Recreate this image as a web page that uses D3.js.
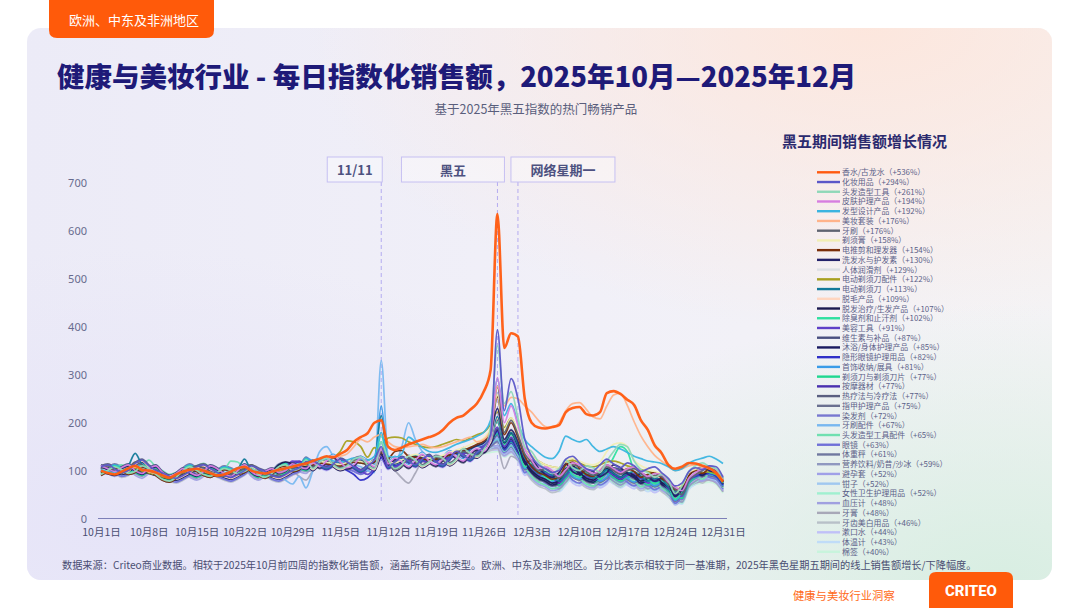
<!DOCTYPE html>
<html><head><meta charset="utf-8">
<script src="https://cdn.jsdelivr.net/npm/d3@7"></script>
<style>html,body{margin:0;padding:0;background:#fff;}svg{display:block;font-family:"Noto Sans CJK SC","Noto Sans",sans-serif;}</style>
</head><body><svg id="c" width="1080" height="608"></svg>
<script>
// ---------- DATA ----------
const regionLabel = "欧洲、中东及非洲地区";
const titleText = "健康与美妆行业 - 每日指数化销售额，2025年10月—2025年12月";
const subtitleText = "基于2025年黑五指数的热门畅销产品";
const legendTitle = "黑五期间销售额增长情况";
const footnote = "数据来源：Criteo商业数据。相较于2025年10月前四周的指数化销售额，涵盖所有网站类型。欧洲、中东及非洲地区。百分比表示相较于同一基准期，2025年黑色星期五期间的线上销售额增长/下降幅度。";
const bottomLabel = "健康与美妆行业洞察";
const brand = "CRITEO";

const startDate = "2025-10-01";
const endDate = "2025-12-31";
const yTicks = [0,100,200,300,400,500,600,700];
const tickDates = ["2025-10-01","2025-10-08","2025-10-15","2025-10-22","2025-10-29","2025-11-05","2025-11-12","2025-11-19","2025-11-26","2025-12-03","2025-12-10","2025-12-17","2025-12-24","2025-12-31"];
const tickLabels = ["10月1日","10月8日","10月15日","10月22日","10月29日","11月5日","11月12日","11月19日","11月26日","12月3日","12月10日","12月17日","12月24日","12月31日"];
const eventLabels = ["11/11","黑五","网络星期一"];
const eventDates = ["2025-11-11","2025-11-28","2025-12-01"];

const categories = ["香水/古龙水","化妆用品","头发造型工具","皮肤护理产品","发型设计产品","美妆套装","牙刷","剃须膏","电推剪和理发器","洗发水与护发素","人体润滑剂","电动剃须刀配件","电动剃须刀","脱毛产品","脱发治疗/生发产品","除臭剂和止汗剂","美容工具","维生素与补品","沐浴/身体护理产品","隐形眼镜护理用品","首饰收纳/展具","剃须刀与剃须刀片","按摩器材","热疗法与冷疗法","指甲护理产品","染发剂","牙刷配件","头发造型工具配件","眼镜","体重秤","营养饮料/奶昔/沙冰","避孕套","钳子","女性卫生护理用品","血压计","牙膏","牙齿美白用品","漱口水","体温计","棉签"];
const growth = [536,294,261,194,192,176,176,158,154,130,129,122,113,109,107,102,91,87,85,82,81,77,77,77,75,72,67,65,63,61,59,52,52,52,48,48,46,44,43,40];
const palette = ["#ff5a0f","#5b57c8","#8fd8b8","#d67ee0","#3ab4e0","#ffb38a","#5f6470","#f1eeb4","#7a2e0a","#24226a","#dcdfe4","#a8a020","#137a9a","#ffd6c0","#1b1a50","#2ee0a0","#6040c8","#4a5080","#1a1a60","#3030c8","#3a9ce8","#20d890","#4a30b0","#5a5f80","#6a7090","#7878d0","#78b8f0","#70e0b0","#7070d8","#7078a0","#9098c0","#a0a0e8","#a0c8f0","#a0f0d0","#a0a0e0","#a8a8b8","#b8c0c8","#c0c0f8","#c0dcf8","#c8f4dc"];

// daily values, Oct 1 .. Dec 31
const d01 = [100,95,92,98,105,110,102,100,96,90,85,92,98,102,104,100,95,90,92,98,105,108,100,96,94,98,102,105,108,112,115,
 120,125,130,128,135,143,160,170,178,200,205,150,143,148,155,160,165,170,175,185,200,210,215,227,240,265,310,636,356,387,
 380,250,200,190,188,191,195,222,231,233,218,215,222,262,266,260,248,237,205,185,153,137,112,104,108,116,115,110,105,95,77];
const d02 = [108,112,104,96,100,115,122,110,100,95,88,84,90,98,108,112,104,96,90,86,92,100,110,104,98,90,86,92,100,106,118,
 120,112,106,114,124,118,108,100,110,122,150,108,118,128,120,112,124,132,118,112,126,140,132,124,138,150,175,394,225,292,
 250,165,130,112,104,96,100,124,130,116,104,100,112,124,114,106,116,110,98,104,108,96,84,68,74,98,106,102,110,108,86];
const d03 = [92,100,108,102,94,98,110,104,92,82,78,86,100,108,100,92,88,96,104,100,94,98,106,92,86,94,108,112,100,104,122,
 104,118,126,112,104,110,124,128,112,104,160,124,104,112,130,122,110,118,130,126,114,124,146,136,130,144,190,361,240,265,
 210,150,140,118,102,94,104,122,106,100,110,106,96,120,140,155,150,120,102,96,86,92,80,52,68,98,110,116,108,104,84];
const d04 = [110,104,98,106,112,100,94,104,110,96,88,94,104,96,90,98,110,104,94,88,100,112,98,90,98,104,96,100,114,108,104,
 116,108,120,130,118,106,112,126,118,108,145,114,126,118,108,122,134,120,112,124,138,128,120,136,146,140,170,294,200,235,
 195,145,122,104,108,100,88,102,116,112,102,94,100,112,104,96,104,108,98,88,94,92,76,66,58,84,96,104,110,102,88];
const d05 = [102,98,96,100,106,110,104,100,95,90,86,92,98,102,104,100,96,92,94,100,106,110,102,98,94,98,102,106,110,114,116,
 118,122,124,120,118,122,126,124,122,130,180,130,128,135,170,160,148,140,138,142,148,155,160,165,172,180,205,292,215,240,
 200,165,150,138,128,125,140,172,165,160,165,150,140,145,150,145,138,130,125,120,118,115,108,100,104,115,122,126,130,124,115];
const d06 = [100,96,94,98,104,108,102,98,94,90,86,92,98,102,104,100,96,92,94,98,104,108,100,96,94,98,102,106,110,112,115,
 118,122,125,128,130,135,150,165,160,170,175,160,150,148,150,152,155,150,148,150,155,160,165,170,160,165,185,276,235,253,
 250,235,222,205,192,190,200,225,240,242,228,212,208,235,258,262,236,202,172,150,132,120,110,100,104,110,112,108,104,96,82];
const d07 = [104,110,100,94,104,118,112,102,96,90,84,88,96,104,110,106,98,94,88,92,98,104,112,102,94,88,92,100,104,110,114,
 108,120,124,114,106,112,122,124,110,106,140,120,102,110,126,120,112,120,128,122,116,126,140,134,132,146,170,276,180,205,
 175,135,118,100,104,96,84,98,112,108,98,90,96,108,100,92,100,104,94,84,90,88,72,62,50,80,92,100,106,98,84];
const d08 = [100,97,95,99,104,108,102,98,94,90,86,91,97,101,103,99,95,91,93,98,104,108,101,97,94,97,101,105,108,111,113,
 115,119,117,115,113,117,121,119,117,122,142,118,116,122,130,134,130,126,128,132,137,143,148,154,160,168,190,258,185,210,
 180,145,130,120,112,108,106,120,126,120,114,112,118,140,155,158,150,122,110,104,98,94,80,66,70,96,103,106,108,103,86];
const d09 = [90,98,106,100,92,96,108,102,90,80,76,84,98,106,98,90,86,94,102,98,92,96,104,90,84,92,106,110,98,102,118,
 112,116,114,112,110,114,118,116,114,118,138,125,140,142,130,128,125,122,124,128,133,138,142,148,155,162,182,254,175,200,
 170,130,108,96,90,82,86,112,118,104,92,88,100,112,102,94,104,98,86,92,96,84,74,60,66,90,100,94,104,102,78];
const d10 = [108,102,96,104,110,98,92,102,108,94,86,92,102,94,88,96,108,102,92,86,98,110,96,88,96,102,94,98,112,106,102,
 113,117,115,113,111,115,119,117,115,119,135,117,115,120,126,130,126,122,124,128,132,137,141,146,152,158,176,230,165,185,
 160,116,122,106,92,86,96,114,98,92,102,98,88,96,112,106,94,86,94,88,78,84,74,46,62,90,102,108,100,96,78];
const d11 = [104,100,97,101,106,110,104,100,96,92,88,93,99,103,105,101,97,93,95,100,106,110,103,99,96,99,103,107,110,113,115,
 118,110,122,132,120,108,114,128,120,110,138,116,128,120,110,124,136,122,114,126,140,130,122,138,148,142,166,229,168,188,
 162,135,121,113,107,103,101,113,117,111,105,103,107,113,115,111,105,101,97,94,91,88,77,63,68,88,96,99,101,96,80];
const d12 = [98,95,92,96,101,105,99,95,91,87,84,89,95,99,101,97,93,89,91,96,101,105,99,95,92,95,99,103,107,110,112,
 115,120,125,128,140,162,160,150,128,148,140,168,170,168,160,155,150,148,150,155,160,165,162,168,175,180,196,222,190,210,
 175,145,130,120,112,108,106,118,122,116,110,108,112,118,120,116,110,106,102,98,95,92,80,66,70,86,94,96,98,92,76];
const d13 = [100,96,94,98,110,136,112,100,94,90,86,91,97,101,103,99,95,90,92,97,103,124,100,96,92,95,99,103,107,110,112,
 118,110,104,112,122,116,106,98,108,120,215,106,116,126,118,110,122,130,116,110,124,138,130,122,136,148,165,213,160,180,
 155,126,110,94,98,90,78,92,106,102,92,84,90,102,94,86,94,98,88,78,84,82,66,58,50,82,94,102,106,98,82];
const d14 = [106,110,102,94,98,113,120,108,98,93,86,82,88,96,106,110,102,94,88,84,90,98,108,102,96,88,84,90,98,104,116,
 102,116,124,110,102,108,122,126,110,102,136,122,102,110,128,120,108,116,128,124,112,122,144,134,128,142,160,209,162,182,
 158,130,118,110,104,100,98,110,114,108,102,100,104,110,112,108,102,98,94,91,88,85,74,60,65,92,100,103,105,100,82];
const d15 = [96,93,90,95,100,104,98,94,90,86,83,88,94,98,100,96,92,88,90,95,100,104,98,94,92,98,112,118,114,108,110,
 114,106,118,128,116,104,110,124,116,106,134,112,124,116,106,120,132,118,110,122,136,126,118,134,144,138,158,207,158,178,
 152,120,100,88,82,74,78,104,110,96,84,80,92,104,94,86,96,90,78,84,88,76,66,52,58,90,100,94,104,100,76];
const d16 = [94,102,110,104,96,100,112,106,94,84,80,88,102,110,102,94,90,98,106,102,96,100,108,94,88,96,110,114,102,106,124,
 114,118,116,114,112,116,120,118,116,120,175,118,116,121,127,131,127,123,125,129,133,138,142,147,153,158,172,202,155,175,
 150,108,116,100,86,80,90,108,92,86,96,92,82,100,128,150,140,100,88,82,72,78,68,40,56,84,96,104,96,92,74];
const d17 = [98,95,92,96,101,105,99,95,91,87,84,89,95,99,101,97,93,89,91,96,101,105,99,95,92,95,99,108,120,118,110,
 112,116,114,112,110,114,110,100,92,105,130,110,108,114,120,124,120,116,118,122,126,131,135,140,146,152,165,191,150,170,
 145,122,106,90,94,86,74,88,102,98,88,80,86,98,90,82,90,94,84,74,80,78,62,54,46,78,90,98,104,96,80];
const d18 = [112,106,100,108,114,102,96,106,112,98,90,96,106,98,92,100,112,106,96,90,102,114,100,92,100,106,98,102,116,110,106,
 122,114,108,116,126,120,110,102,112,124,132,110,120,130,122,114,126,134,120,114,128,142,134,126,140,150,160,187,150,168,
 145,122,112,104,98,94,92,104,108,102,96,94,98,104,106,102,96,92,88,85,82,79,68,54,59,86,94,97,99,94,76];
const d19 = [104,108,100,92,96,111,118,106,96,91,84,80,86,94,104,108,100,92,86,82,88,96,106,100,94,86,82,88,96,102,114,
 100,114,122,108,100,106,120,124,108,100,130,120,100,108,126,118,106,114,126,122,110,120,142,132,126,140,156,185,148,166,
 143,116,96,84,78,70,74,100,106,92,80,76,88,100,90,82,92,86,74,80,84,72,62,48,54,86,96,90,100,98,72];
const d20 = [99,96,93,97,102,106,100,96,92,88,85,90,96,100,102,98,94,90,92,97,102,106,100,96,93,96,100,104,112,118,112,
 110,114,112,110,108,100,92,80,85,100,128,112,110,115,121,125,121,117,119,123,127,132,136,141,146,151,162,182,145,162,
 140,118,108,100,94,90,88,100,104,98,92,90,94,100,102,98,92,88,84,81,78,75,64,50,55,80,88,92,94,88,70];
const d21 = [96,104,112,106,98,102,114,108,96,86,82,90,104,112,104,96,92,100,108,104,98,102,110,96,90,98,112,116,104,108,126,
 120,112,124,134,122,110,116,130,122,112,235,118,130,122,112,126,138,124,116,128,142,132,124,140,150,144,160,181,150,165,
 145,104,112,96,82,76,86,104,88,82,92,88,78,86,102,96,84,76,84,78,68,74,64,38,52,80,92,100,92,88,68];
const d22 = [106,100,94,102,108,96,90,100,106,92,84,90,100,92,86,94,106,100,90,84,96,108,94,86,94,100,92,96,110,104,100,
 113,117,115,113,111,115,119,117,115,119,160,117,115,120,126,130,126,122,124,128,131,135,138,142,147,151,160,177,145,160,
 140,118,102,86,90,82,70,84,98,94,84,76,82,94,86,78,86,90,80,70,76,74,58,50,42,74,86,94,100,92,76];
const d23 = [98,95,92,96,101,105,99,95,91,87,84,89,95,99,101,97,93,89,91,96,101,105,99,95,92,95,99,104,116,120,112,
 116,108,102,110,120,114,104,96,106,118,128,104,114,124,116,108,120,128,114,108,122,136,128,120,134,144,156,177,143,158,
 138,118,108,100,94,90,88,100,104,98,92,90,94,100,102,98,92,88,84,81,78,75,64,50,55,82,90,93,95,90,72];
const d24 = [110,114,106,98,102,117,124,112,102,97,90,86,92,100,110,114,106,98,92,88,94,102,112,106,100,92,88,94,102,108,120,
 112,104,116,126,114,102,108,122,114,104,130,110,122,114,104,118,130,116,108,120,134,124,116,132,142,136,156,177,146,160,
 140,114,94,82,76,68,72,98,104,90,78,74,86,98,88,80,90,84,72,78,82,70,60,46,52,84,94,88,98,96,70];
const d25 = [90,98,106,100,92,96,108,102,90,80,76,84,98,106,98,90,86,94,102,98,92,96,104,90,84,92,106,110,98,102,120,
 106,120,128,114,106,112,126,130,114,106,131,126,106,114,132,124,112,120,132,128,116,126,148,138,132,146,158,175,147,160,
 141,102,110,94,80,74,84,102,86,80,90,86,76,84,100,94,82,74,82,76,66,72,62,36,50,78,90,98,90,86,66];
const d26 = [108,102,96,104,110,98,92,102,108,94,86,92,102,94,88,96,108,102,92,86,98,110,96,88,96,102,94,98,112,106,102,
 118,110,104,112,122,116,106,98,108,120,129,106,116,126,118,110,122,130,116,110,124,138,130,122,136,146,156,172,145,158,
 138,116,100,84,88,80,68,82,96,92,82,74,80,92,84,76,84,88,78,68,74,72,56,48,40,72,84,92,98,90,74];
const d27 = [102,98,96,100,106,112,104,100,94,90,86,91,97,101,103,99,95,91,93,98,104,108,101,97,94,97,90,80,72,88,64,
 100,140,150,130,118,115,112,108,100,96,330,130,115,150,200,165,140,128,126,130,134,138,141,145,150,154,158,167,142,155,
 135,116,106,98,92,88,86,98,102,96,90,88,92,98,100,96,90,86,82,79,76,73,62,48,53,78,86,90,92,86,68];
const d28 = [100,104,108,112,106,100,110,122,108,100,92,96,100,104,110,115,105,95,100,120,118,104,100,96,90,92,98,104,108,106,110,
 112,116,114,112,110,114,118,116,114,118,145,116,114,119,125,129,125,121,123,127,131,135,138,142,146,150,156,165,140,152,
 132,108,88,76,70,62,66,92,98,84,72,68,80,92,82,74,84,78,66,72,76,64,54,40,46,78,88,82,92,90,64];
const d29 = [100,104,96,88,92,107,114,102,92,87,80,76,82,90,100,104,96,88,82,78,84,92,102,96,90,82,78,84,92,98,110,
 112,116,114,112,110,104,98,92,100,110,126,114,112,117,123,127,123,119,121,125,129,133,136,140,144,148,154,163,138,150,
 130,96,104,88,74,68,78,96,80,74,84,80,70,78,94,88,76,68,76,70,60,66,56,32,46,74,86,94,86,82,62];
const d30 = [98,106,114,108,100,104,116,110,98,88,84,92,106,114,106,98,94,102,110,106,100,104,112,98,92,100,114,118,106,110,128,
 114,106,118,128,116,104,110,124,116,106,128,112,124,116,106,120,132,118,110,122,136,126,118,134,144,138,150,161,140,150,
 131,113,103,95,89,85,83,95,99,93,87,85,89,95,97,93,87,83,79,76,73,70,59,45,50,77,85,88,90,85,67];
const d31 = [104,98,92,100,106,94,88,98,104,90,82,88,98,90,84,92,104,98,88,82,94,106,92,84,92,98,90,94,108,102,98,
 102,116,124,110,102,108,122,126,110,102,126,122,102,110,128,120,108,116,128,124,112,122,144,134,128,140,150,159,139,149,
 130,110,94,78,82,74,62,76,90,86,76,68,74,86,78,70,78,82,72,62,68,66,50,42,34,66,78,86,92,84,68];
const d32 = [103,99,97,101,106,110,104,100,96,92,88,93,99,103,105,101,97,93,95,100,106,110,103,99,96,99,103,107,110,113,115,
 120,112,106,114,124,118,108,100,110,122,128,108,118,128,120,112,124,132,118,112,126,140,132,124,138,146,150,152,136,145,
 128,104,84,72,66,58,62,88,94,80,68,64,76,88,78,70,80,74,62,68,72,60,50,36,42,74,84,78,88,86,60];
const d33 = [102,106,98,90,94,109,116,104,94,89,82,78,84,92,102,106,98,90,84,80,86,94,104,98,92,84,80,86,94,100,112,
 113,117,115,113,111,115,119,117,115,119,124,117,115,120,126,130,126,122,124,128,132,135,138,141,144,147,149,152,135,144,
 127,94,102,86,72,66,76,94,78,72,82,78,68,76,92,86,74,66,74,68,58,64,54,30,44,72,84,92,84,80,60];
const d34 = [92,100,108,102,94,98,110,104,92,82,78,86,100,108,100,92,88,96,104,100,94,98,106,92,86,94,108,112,100,104,122,
 118,110,122,132,120,108,114,128,120,110,126,116,128,120,110,124,136,122,114,126,140,130,122,138,146,140,148,152,136,145,
 128,108,92,76,80,72,60,74,88,84,74,66,72,84,76,68,76,80,70,60,66,64,48,40,32,64,76,84,90,82,66];
const d35 = [100,94,88,96,102,90,84,94,100,86,78,84,94,86,80,88,100,94,84,78,90,102,88,80,88,94,86,90,104,98,94,
 112,116,114,112,110,106,100,95,105,112,122,114,112,117,123,127,123,119,121,125,129,132,135,138,141,144,146,148,132,140,
 124,106,96,88,80,76,74,88,92,86,80,78,82,88,90,86,80,76,72,69,66,63,52,38,43,68,76,80,82,76,58];
const d36 = [102,98,96,100,105,109,103,99,95,91,87,92,98,102,104,100,96,92,94,99,105,109,102,98,95,98,102,106,100,88,80,
 100,112,114,112,110,114,118,116,114,118,124,110,100,85,74,95,118,120,122,126,130,133,136,139,142,145,147,148,104,130,
 122,104,94,86,78,72,70,86,90,84,78,76,80,86,88,84,78,74,70,67,64,61,50,30,40,66,74,78,80,74,56];
const d37 = [98,102,94,86,90,105,112,100,90,85,78,74,80,88,98,102,94,86,80,76,82,90,100,94,88,80,76,82,90,96,108,
 100,114,122,108,100,106,120,124,108,100,124,120,100,108,126,118,106,114,126,122,110,120,140,132,126,136,142,146,131,139,
 122,100,80,68,62,54,58,84,90,76,64,60,72,84,74,66,76,70,58,64,68,56,46,32,38,70,80,74,84,82,56];
const d38 = [96,104,112,106,98,102,114,108,96,86,82,90,104,112,104,96,92,100,108,104,98,102,110,96,90,98,112,116,104,108,126,
 114,106,100,108,118,112,102,94,104,116,122,102,112,122,114,106,118,126,112,106,120,134,126,118,132,140,142,144,130,138,
 121,90,98,82,68,62,72,90,74,68,78,74,64,72,88,82,70,62,70,64,54,60,50,28,40,68,80,88,80,76,56];
const d39 = [112,106,100,108,114,102,96,106,112,98,90,96,106,98,92,100,112,106,96,90,102,114,100,92,100,106,98,102,116,110,106,
 115,119,117,115,113,117,121,119,117,121,125,119,117,122,128,132,128,124,126,130,134,136,138,140,141,142,143,143,130,137,
 120,102,86,70,74,66,56,70,84,80,70,62,68,80,72,64,72,76,66,56,62,60,44,36,30,60,72,80,86,78,62];
const d40 = [101,98,95,99,104,108,102,98,94,90,86,91,97,101,103,99,95,91,93,98,104,108,101,97,94,97,101,105,108,111,113,
 116,108,120,130,118,106,112,126,118,108,123,114,126,118,108,122,134,120,112,124,138,128,120,134,140,136,138,140,128,135,
 119,101,91,83,77,73,71,83,87,81,75,73,77,83,85,81,75,71,67,64,61,58,47,33,38,63,71,74,76,71,53];
const seriesValues = [d01,d02,d03,d04,d05,d06,d07,d08,d09,d10,d11,d12,d13,d14,d15,d16,d17,d18,d19,d20,d21,d22,d23,d24,d25,d26,d27,d28,d29,d30,d31,d32,d33,d34,d35,d36,d37,d38,d39,d40];

// ---------- DRAW ----------
const svg = d3.select("#c");
const parse = d3.timeParse("%Y-%m-%d");
const days = d3.timeDay.range(parse(startDate), d3.timeDay.offset(parse(endDate),1));
const defs = svg.append("defs");

const lg = defs.append("linearGradient").attr("id","pbase").attr("x1","0").attr("x2","1").attr("y1","0").attr("y2","0");
lg.append("stop").attr("offset","0%").attr("stop-color","#ecebf7");
lg.append("stop").attr("offset","55%").attr("stop-color","#f1f0f8");
lg.append("stop").attr("offset","100%").attr("stop-color","#f4f3f5");
const rp = defs.append("radialGradient").attr("id","pink").attr("cx","0.82").attr("cy","0").attr("r","0.55");
rp.append("stop").attr("offset","0%").attr("stop-color","#fde6dc").attr("stop-opacity",0.95);
rp.append("stop").attr("offset","100%").attr("stop-color","#fde6dc").attr("stop-opacity",0);
const rg = defs.append("radialGradient").attr("id","green").attr("cx","0.95").attr("cy","1").attr("r","0.5");
rg.append("stop").attr("offset","0%").attr("stop-color","#d8eee2").attr("stop-opacity",1);
rg.append("stop").attr("offset","100%").attr("stop-color","#d8eee2").attr("stop-opacity",0);
const rl = defs.append("radialGradient").attr("id","lav").attr("cx","0.1").attr("cy","0.9").attr("r","0.5");
rl.append("stop").attr("offset","0%").attr("stop-color","#e6e4f8").attr("stop-opacity",1);
rl.append("stop").attr("offset","100%").attr("stop-color","#e6e4f8").attr("stop-opacity",0);

const P = {x:27, y:28, w:1025, h:552};
["pbase","lav","pink","green"].forEach(id=>{
  svg.append("rect").attr("x",P.x).attr("y",P.y).attr("width",P.w).attr("height",P.h).attr("rx",14).attr("fill",`url(#${id})`);
});

// top-left tab
svg.append("path").attr("d","M49,0 H214 V30 Q214,38 206,38 H57 Q49,38 49,30 Z").attr("fill","#ff5a0a");
svg.append("text").attr("x",69).attr("y",25).attr("fill","#fff").attr("font-size",13).text(regionLabel);

// title
svg.append("text").attr("x",57).attr("y",87).attr("fill","#1e1a78").attr("font-size",27.5).attr("font-weight",900).text(titleText);
svg.append("text").attr("x",536).attr("y",114).attr("text-anchor","middle").attr("fill","#5a5e7c").attr("font-size",12.5).text(subtitleText);

// scales
const x = d3.scaleTime().domain([parse(startDate), parse(endDate)]).range([101,723]);
const y = d3.scaleLinear().domain([0,700]).range([518.5,183.3]);

// y axis
const ya = svg.append("g").attr("transform","translate(90,0)")
  .call(d3.axisLeft(y).tickValues(yTicks).tickSize(0).tickPadding(3));
ya.select(".domain").remove();
ya.selectAll("text").attr("fill","#676b8e").attr("font-size",11).attr("font-family","Noto Sans, sans-serif");

// x axis
const xa = svg.append("g").attr("transform","translate(0,518.5)")
  .call(d3.axisBottom(x).tickValues(tickDates.map(parse)).tickFormat((d,i)=>tickLabels[i]).tickSize(0).tickPadding(10));
xa.select(".domain").remove();
xa.selectAll("text").attr("fill","#4a4e72").attr("font-size",10.5).attr("font-family","Noto Sans CJK SC, sans-serif");
svg.append("line").attr("x1",98).attr("x2",727).attr("y1",518.5).attr("y2",518.5).attr("stroke","#7d80b8").attr("stroke-width",1);

// event lines + boxes
const boxGeom = [[-54,1],[-96,7],[-7,97]];
const lineEnd = [503,503,517];
eventDates.forEach((ds,i)=>{
  const ex = x(parse(ds));
  svg.append("line").attr("x1",ex).attr("x2",ex).attr("y1",182).attr("y2",lineEnd[i])
    .attr("stroke","#b4acf0").attr("stroke-width",1).attr("stroke-dasharray","4,3");
  const bx = ex + boxGeom[i][0], bw = boxGeom[i][1]-boxGeom[i][0];
  svg.append("rect").attr("x",bx).attr("y",157).attr("width",bw).attr("height",25)
    .attr("fill","rgba(255,255,255,0.35)").attr("stroke","#c6c0f2").attr("stroke-width",1);
  svg.append("text").attr("x",bx+bw/2).attr("y",174.5).attr("text-anchor","middle")
    .attr("fill","#4d5180").attr("font-size",13).attr("font-weight",700).text(eventLabels[i]);
});

// lines
const line = d3.line().x((d,i)=>x(days[i])).y(d=>y(d)).curve(d3.curveMonotoneX);
const order = d3.range(seriesValues.length).reverse();
svg.append("g").selectAll("path").data(order).join("path")
  .attr("d",i=>line(seriesValues[i]))
  .attr("fill","none").attr("stroke",i=>palette[i])
  .attr("stroke-width",i=>i===0?2.6:1.7).attr("stroke-linejoin","round").attr("stroke-opacity",0.95);

// legend
svg.append("text").attr("x",782).attr("y",147).attr("fill","#2b2a6e").attr("font-size",15).attr("font-weight",700).text(legendTitle);
const lgG = svg.append("g").selectAll("g").data(categories).join("g")
  .attr("transform",(d,i)=>`translate(0,${172.3+i*9.73})`);
lgG.append("line").attr("x1",817).attr("x2",840).attr("y1",0).attr("y2",0)
  .attr("stroke",(d,i)=>palette[i]).attr("stroke-width",2.4);
lgG.append("text").attr("x",842).attr("y",3).attr("font-size",7.9).attr("fill","#5c5f88")
  .text((d,i)=>`${d}（+${growth[i]}%）`);

// footnote
svg.append("text").attr("x",62).attr("y",569).attr("font-size",10.2).attr("fill","#4a4e72").text(footnote);

// bottom brand
svg.append("text").attr("x",793).attr("y",600).attr("font-size",11.3).attr("fill","#ff6a20").text(bottomLabel);
svg.append("path").attr("d","M929,608 V579 Q929,572 936,572 H1006 Q1013,572 1013,579 V608 Z").attr("fill","#ff5a0a");
svg.append("text").attr("x",971).attr("y",596).attr("text-anchor","middle").attr("fill","#fff")
  .attr("font-size",15).attr("font-weight",800).attr("font-family","Roboto, sans-serif").text(brand);
</script></body></html>
